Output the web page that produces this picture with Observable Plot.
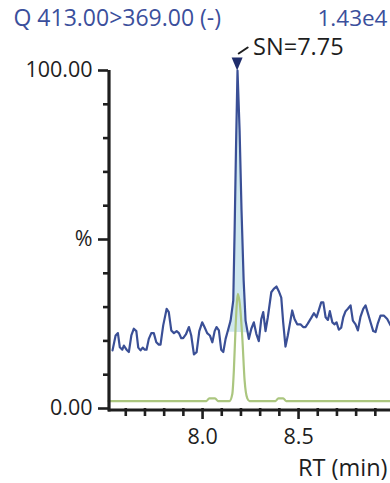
<!DOCTYPE html>
<html><head><meta charset="utf-8">
<script src="https://cdn.jsdelivr.net/npm/d3@7"></script>
<script src="https://cdn.jsdelivr.net/npm/@observablehq/plot@0.6"></script>
<style>html,body{margin:0;padding:0;background:#fff;} svg{display:block}</style>
</head><body><div id="chart"></div>
<script>
const title = "Q 413.00>369.00 (-)";
const intensity = "1.43e4";
const snLabel = "SN=7.75";
const xLabel = "RT (min)";
const yUnit = "%";

// Blue trace (quantifier) — retention time (min) and relative intensity (%)
const blueT = [7.531,7.547,7.559,7.569,7.582,7.590,7.604,7.616,7.629,7.642,7.655,7.665,7.677,7.688,7.699,7.708,7.720,7.733,7.746,7.759,7.772,7.781,7.795,7.813,7.824,7.837,7.851,7.865,7.877,7.889,7.899,7.913,7.929,7.941,7.955,7.969,7.983,7.998,8.010,8.024,8.038,8.051,8.063,8.073,8.085,8.097,8.108,8.120,8.132,8.146,8.160,8.167,8.174,8.182,8.193,8.203,8.214,8.224,8.241,8.254,8.267,8.280,8.293,8.306,8.316,8.328,8.340,8.358,8.371,8.385,8.397,8.410,8.420,8.432,8.444,8.455,8.467,8.479,8.493,8.510,8.524,8.536,8.548,8.566,8.580,8.594,8.606,8.618,8.629,8.641,8.653,8.663,8.676,8.688,8.698,8.710,8.722,8.733,8.745,8.757,8.771,8.783,8.797,8.809,8.823,8.837,8.849,8.861,8.875,8.889,8.901,8.913,8.927,8.944,8.962,8.979];
const blueV = [17.2,21.6,22.3,18.1,17.4,18.6,17.4,16.7,21.6,23.6,22.9,18.0,17.2,18.0,17.4,17.4,20.6,22.3,22.3,19.6,18.9,18.9,24.6,29.5,28.5,23.1,22.3,22.9,22.3,20.8,20.8,21.9,24.1,21.6,16.0,16.7,22.9,25.5,24.1,22.3,21.6,19.6,22.9,24.1,23.1,17.4,16.7,20.6,23.1,26.0,32.0,52.7,76.3,100,82.2,58.6,37.9,26.0,20.6,23.6,25.5,22.1,19.9,26.5,28.5,22.9,27.0,34.4,35.4,36.1,34.7,32.8,25.5,18.3,21.6,25.1,29.0,26.5,24.9,24.9,24.1,24.1,25.1,26.8,28.2,27.0,29.2,31.4,31.4,27.0,26.2,28.8,25.5,24.9,25.5,23.3,23.9,27.0,28.8,29.5,30.5,26.0,24.9,23.1,27.2,29.5,30.5,28.2,25.5,22.9,22.6,25.2,27.5,27.5,26.5,24.6];

// Green trace (qualifier)
const greenT = [7.51,8.02,8.035,8.065,8.08,8.14,8.155,8.163,8.172,8.184,8.194,8.207,8.219,8.233,8.245,8.38,8.395,8.42,8.435,8.979];
const greenV = [2.2,2.2,3.0,3.0,2.2,2.2,4.3,11.2,24,33.9,31,21,8.3,3,2.2,2.2,3.0,3.0,2.2,2.2];

// Integrated peak
const peakT = 8.18, peakV = 100;
const fillStart = [8.13, 22.6];
const fillEnd = [8.234, 22.4];

const yLabelTicks = [0, 50, 100];
const yMinorTicks = [10,20,30,40,60,70,80,90];
const xMajorTicks = [8.0, 8.5];
const xMinorTicks = [7.6,7.7,7.8,7.9,8.1,8.2,8.3,8.4,8.6,8.7,8.8,8.9];
const xDomain = [7.51, 8.979];
const yDomain = [0, 100];

const blue = blueT.map((t,i)=>({t, v: blueV[i]}));
const green = greenT.map((t,i)=>({t, v: greenV[i]}));
const baseAt = t => fillStart[1] + (fillEnd[1]-fillStart[1])*(t-fillStart[0])/(fillEnd[0]-fillStart[0]);
const fillData = [{t: fillStart[0], v: fillStart[1]},
  ...blue.filter(d => d.t > fillStart[0] && d.t < fillEnd[0]),
  {t: fillEnd[0], v: fillEnd[1]}].map(d => ({t: d.t, lo: baseAt(d.t), hi: d.v}));

const FONT = "'Open Sans', 'Noto Sans', sans-serif";
const INK = "#1e1e1e";
const BLUE = "#3a4f96";
const TITLE = "#3b4f9c";
const FS = 21.5;

const downTri = {draw(ctx){ ctx.moveTo(-5.5,-13); ctx.lineTo(5.5,-13); ctx.lineTo(0,0); ctx.closePath(); }};
const stick = {draw(ctx, l){ ctx.moveTo(0,0); ctx.lineTo(0,-l); }};

const chart = Plot.plot({
  width: 390, height: 483,
  marginLeft: 108, marginRight: 0, marginTop: 70, marginBottom: 75,
  x: {domain: xDomain},
  y: {domain: yDomain},
  style: {fontFamily: FONT, fontSize: FS+"px", color: INK, background: "#fff", overflow: "visible"},
  marks: [
    Plot.areaY(fillData, {x: "t", y1: "lo", y2: "hi", fill: "#cfe7ef"}),
    Plot.line(green, {x: "t", y: "v", stroke: "#abc67f", strokeWidth: 2.2, curve: "monotone-x"}),
    Plot.line(blue, {x: "t", y: "v", stroke: BLUE, strokeWidth: 2.2}),
    Plot.ruleX([xDomain[0]], {stroke: INK, strokeWidth: 3.2, dx: 0.5, y1: -1, y2: 100}),
    Plot.ruleY([0], {stroke: INK, strokeWidth: 3.2, dy: 1.5}),
    Plot.axisY(yLabelTicks, {tickSize: 10, tickPadding: 6, strokeWidth: 2.6, stroke: INK, fill: INK, fontSize: FS,
      tickFormat: d => d === 50 ? yUnit : d.toFixed(2), label: null}),
    Plot.axisY(yMinorTicks, {tickSize: 5, strokeWidth: 2.6, stroke: INK, tickFormat: () => "", label: null}),
    Plot.axisX(xMajorTicks, {tickSize: 11, tickPadding: 9, strokeWidth: 2.6, stroke: INK, fill: INK, fontSize: FS,
      tickFormat: d => d.toFixed(1), label: null}),
    Plot.axisX(xMinorTicks, {tickSize: 8, strokeWidth: 2.6, stroke: INK, tickFormat: () => "", label: null}),
    Plot.dot([{t: peakT, v: peakV}], {x: "t", y: "v", symbol: downTri, fill: "#1f2d6b", stroke: "none", r: 6}),
    Plot.vector([{t: peakT, v: peakV}], {x: "t", y: "v", shape: stick, length: 10.8, rotate: 56, anchor: "start",
      dx: 1.6, dy: -17, stroke: INK, strokeWidth: 2}),
    Plot.text([snLabel], {frameAnchor: "top-left", text: d => d, x: () => peakT, y: () => peakV, dx: 16, dy: -23,
      textAnchor: "start", lineAnchor: "middle", fill: INK, fontSize: 23.5}),
    Plot.text([title], {frameAnchor: "top-left", text: d => d, dx: -95, dy: -52, textAnchor: "start", lineAnchor: "middle", fill: TITLE, fontSize: 23}),
    Plot.text([intensity], {frameAnchor: "top-right", text: d => d, dx: -3, dy: -52, textAnchor: "end", lineAnchor: "middle", fill: TITLE, fontSize: 22.5}),
    Plot.text([xLabel], {frameAnchor: "bottom-right", text: d => d, dx: -3, dy: 60, textAnchor: "end", lineAnchor: "middle", fill: INK, fontSize: 23.5})
  ]
});
document.getElementById("chart").appendChild(chart);
</script>
</body></html>
